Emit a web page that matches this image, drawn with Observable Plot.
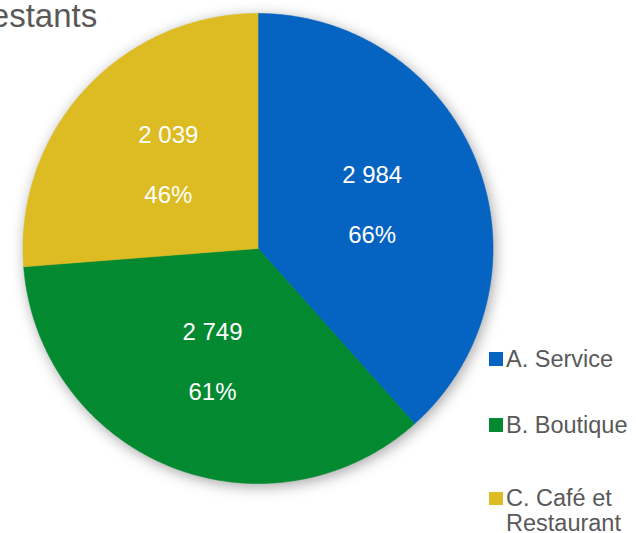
<!DOCTYPE html>
<html>
<head>
<meta charset="utf-8">
<script src="https://cdn.jsdelivr.net/npm/d3@7"></script>
<script src="https://cdn.jsdelivr.net/npm/@observablehq/plot@0.6"></script>
<style>
  html, body { margin: 0; padding: 0; background: #fff; overflow: hidden; }
  #wrap { position: relative; width: 636px; height: 533px; overflow: hidden; font-family: "Liberation Sans", Arial, sans-serif; }
  #title { position: absolute; left: -33px; top: -1px; font-size: 33px; line-height: 33px; color: #595959; white-space: nowrap; }
  #legend { position: absolute; left: 489px; top: 0; color: #595959; font-size: 23.5px; }
  .item { position: absolute; left: 0; display: flex; align-items: flex-start; width: 150px; }
  .sw { width: 13.5px; height: 13.5px; flex: none; margin-top: 5.5px; margin-right: 3.5px; }
  .lab { line-height: 25px; width: 128px; }
  svg g[aria-label="line"] { filter: drop-shadow(2px 3px 7px rgba(0,0,0,0.35)); }
</style>
</head>
<body>
<div id="wrap">
  <div id="chart"></div>
  <div id="title">Restants</div>
  <div id="legend"></div>
</div>
<script>
const categories = ["A. Service", "B. Boutique", "C. Café et Restaurant"];
const values = [2984, 2749, 2039];
const percents = [66, 61, 46];
const colors = ["#0563c1", "#038a30", "#dcbc22"];

const W = 636, H = 533, cx = 257.5, cy = 248, R = 235;

const rows = categories.map((c, i) => ({category: c, value: values[i], pct: percents[i]}));
const arcs = d3.pie().sort(null).value(d => d.value)(rows);

// polygon points for each slice (angle 0 at 12 o'clock, clockwise)
const pts = [];
arcs.forEach(a => {
  const k = a.data.category;
  pts.push({k, x: 0, y: 0});
  const n = Math.ceil((a.endAngle - a.startAngle) / (Math.PI / 360));
  for (let j = 0; j <= n; j++) {
    const t = a.startAngle + (a.endAngle - a.startAngle) * j / n;
    pts.push({k, x: Math.sin(t), y: Math.cos(t)});
  }
  pts.push({k, x: 0, y: 0});
});

const arcGen = d3.arc().innerRadius(0).outerRadius(1.04);
const labels = arcs.map(a => {
  const [x, y] = arcGen.centroid(a);
  return {x, y: -y, value: a.data.value, pct: a.data.pct};
});

const fr = d3.formatLocale({decimal: ",", thousands: " ", grouping: [3], currency: ["", " €"]});
const fmt = fr.format(",d");

const chart = Plot.plot({
  width: W, height: H,
  margin: 0,
  style: {fontFamily: "'Liberation Sans', Arial, sans-serif", background: "transparent"},
  x: {domain: [-cx / R, (W - cx) / R], axis: null},
  y: {domain: [-(H - cy) / R, cy / R], axis: null},
  color: {domain: categories, range: colors},
  marks: [
    Plot.line(pts, {x: "x", y: "y", z: "k", fill: "k", stroke: "k", strokeWidth: 0.6, curve: "linear"}),
    Plot.text(labels, {x: "x", y: "y", text: d => fmt(d.value), fill: "white", fontSize: 24, dy: -30}),
    Plot.text(labels, {x: "x", y: "y", text: d => d.pct + "%", fill: "white", fontSize: 24, dy: 30})
  ]
});
document.getElementById("chart").appendChild(chart);

const legendTops = [346.5, 412.5, 486];
const legend = document.getElementById("legend");
categories.forEach((c, i) => {
  const it = document.createElement("div");
  it.className = "item";
  it.style.top = legendTops[i] + "px";
  const sw = document.createElement("div");
  sw.className = "sw";
  sw.style.background = colors[i];
  const lab = document.createElement("div");
  lab.className = "lab";
  lab.textContent = c;
  it.appendChild(sw); it.appendChild(lab);
  legend.appendChild(it);
});
</script>
</body>
</html>
